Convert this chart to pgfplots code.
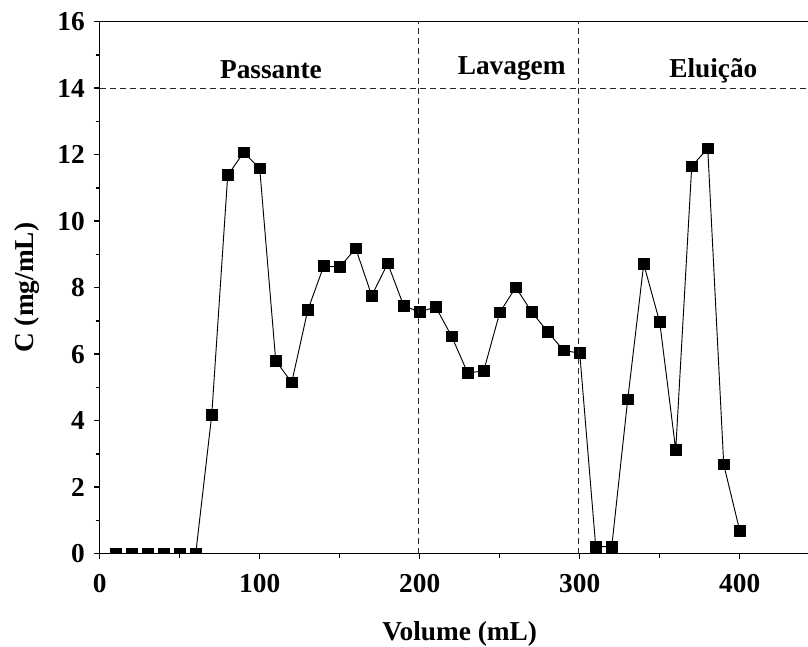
\documentclass[border=0pt]{standalone}
\usepackage{fontspec}
\setmainfont{Liberation Serif}
\usepackage{pgfplots}
\pgfplotsset{compat=1.18}
\begin{document}
\begin{tikzpicture}
\begin{axis}[
  scale only axis,
  width=540pt, height=399pt,
  xmin=0, xmax=450, ymin=0, ymax=16,
  axis x line*=box, axis y line*=left,
  axis line style={-, line width=1.1pt},
  axis on top,
  xtick pos=left, ytick pos=left,
  xtick={0,100,200,300,400},
  ytick={0,2,4,6,8,10,12,14,16},
  minor tick num=1,
  tick align=outside,
  major tick length=4pt, minor tick length=3pt,
  every tick/.style={black, line width=1.1pt},
  /pgf/number format/assume math mode=true,
  ticklabel style={font=\fontsize{20.5}{24}\selectfont\bfseries},
  xticklabel style={inner sep=1pt, yshift=-10pt},
  yticklabel style={inner sep=1pt, xshift=-6pt},
  xlabel={Volume (mL)}, ylabel={C (mg/mL)},
  label style={font=\fontsize{20.5}{24}\selectfont\bfseries},
  xlabel style={at={(axis description cs:0.5,-0.164)}, anchor=base},
  ylabel style={at={(axis description cs:-0.1014,0.5)}, anchor=center, rotate=0},
  clip=true, clip marker paths=true,
]
\addplot[black, line width=0.7pt, mark=square*, mark size=4pt, mark options={solid}] coordinates {
(10,0)(20,0)(30,0)(40,0)(50,0)(60,0)
(70,4.17)(80,11.38)(90,12.07)(100,11.58)(110,5.80)(120,5.15)
(130,7.32)(140,8.65)(150,8.62)(160,9.18)(170,7.76)(180,8.73)
(190,7.45)(200,7.27)(210,7.42)(220,6.53)(230,5.43)(240,5.50)
(250,7.25)(260,8.01)(270,7.27)(280,6.67)(290,6.11)(300,6.03)
(310,0.21)(320,0.21)(330,4.64)(340,8.71)(350,6.96)(360,3.12)
(370,11.65)(380,12.19)(390,2.68)(400,0.69)
};
\addplot[black!85, line width=0.8pt, dash pattern=on 4.5pt off 3pt] coordinates {(199,0)(199,16)};
\addplot[black!85, line width=0.8pt, dash pattern=on 4.5pt off 3pt] coordinates {(299,0)(299,16)};
\addplot[black!85, line width=0.8pt, dash pattern=on 4.5pt off 3pt] coordinates {(0,14)(450,14)};
\node[font=\fontsize{20.5}{24}\selectfont\bfseries, anchor=base] at (axis cs:107,14.30) {Passante};
\node[font=\fontsize{20.5}{24}\selectfont\bfseries, anchor=base] at (axis cs:257.5,14.40) {Lavagem};
\node[font=\fontsize{20.5}{24}\selectfont\bfseries, anchor=base] at (axis cs:383.5,14.33) {Eluição};
\coordinate (O) at (rel axis cs:0,0);
\end{axis}
\pgfresetboundingbox
\path (O) ++(-74.8pt,-70pt) rectangle ++(606pt,485.25pt);
\end{tikzpicture}
\end{document}
